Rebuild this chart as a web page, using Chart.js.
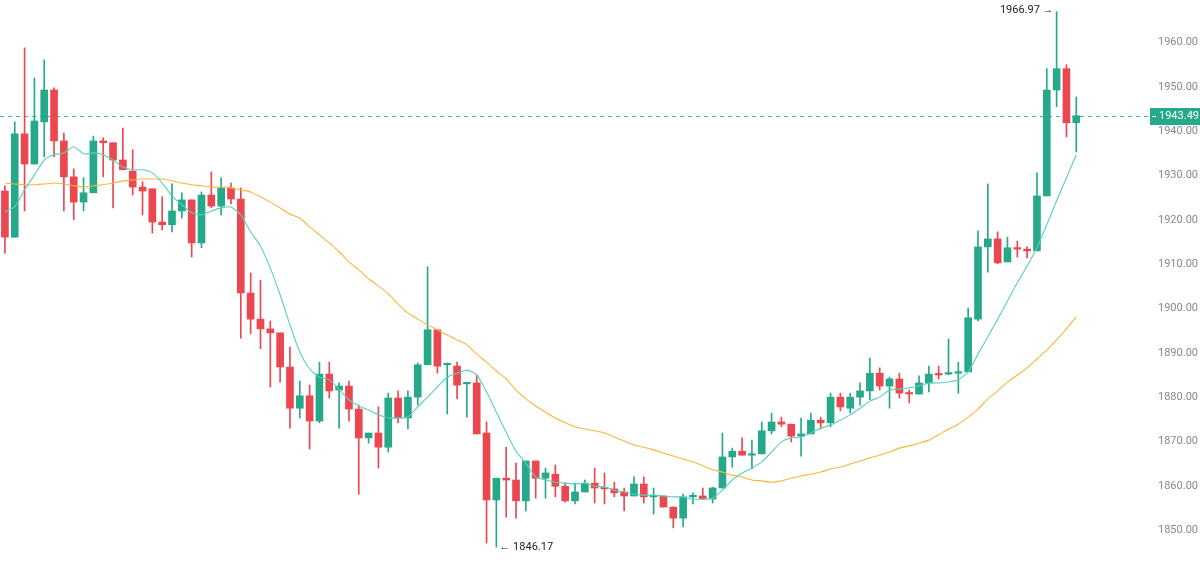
<!DOCTYPE html>
<html>
<head>
<meta charset="utf-8">
<script src="https://cdn.jsdelivr.net/npm/chart.js@4.4.0/dist/chart.umd.min.js"></script>
<style>
html, body { margin: 0; padding: 0; background: #fff; }
#wrap { width: 1200px; height: 566px; }
</style>
</head>
<body>
<div id="wrap"><canvas id="chart"></canvas></div>
<script>
// candles (oldest first)
var open = [1926.5,1916.1,1939.4,1932.6,1942.1,1949.3,1937.8,1929.7,1924.0,1926.1,
 1937.8,1937.4,1933.5,1931.0,1927.4,1927.0,1919.5,1918.9,1922.0,1924.5,
 1914.8,1925.6,1923.1,1927.2,1924.7,1903.5,1897.6,1895.4,1894.5,1886.8,
 1877.5,1880.3,1874.6,1885.2,1881.6,1882.5,1877.3,1870.8,1871.9,1868.7,
 1879.8,1875.3,1880.0,1887.3,1895.2,1887.3,1887.0,1883.0,1883.2,1871.9,
 1856.8,1861.7,1861.3,1856.6,1865.6,1861.7,1862.6,1859.9,1856.6,1858.6,
 1860.6,1859.5,1859.3,1858.6,1857.7,1860.4,1857.5,1857.7,1855.2,1852.7,
 1857.5,1857.7,1857.0,1859.5,1866.5,1867.8,1866.9,1867.2,1872.4,1874.4,
 1873.9,1871.2,1871.7,1874.8,1874.2,1880.0,1877.5,1880.0,1881.4,1885.4,
 1882.5,1884.1,1880.9,1880.7,1883.2,1885.2,1885.2,1885.4,1885.7,1897.6,
 1913.9,1915.7,1910.5,1913.7,1913.4,1913.0,1925.4,1949.3,1954.1,1941.9];
var high = [1927.7,1942.1,1958.8,1952.0,1956.1,1949.8,1939.6,1931.5,1929.5,1938.9,
 1938.5,1937.4,1940.7,1935.8,1928.6,1927.0,1925.2,1928.1,1926.1,1924.5,
 1926.3,1930.8,1929.5,1928.3,1927.2,1908.0,1906.4,1897.2,1894.5,1891.3,
 1883.6,1882.7,1887.9,1887.9,1883.2,1883.6,1878.2,1871.9,1877.8,1880.9,
 1881.4,1881.4,1887.7,1909.4,1895.2,1887.7,1887.9,1883.2,1885.0,1874.4,
 1861.7,1868.7,1865.1,1865.6,1865.6,1864.0,1864.7,1860.6,1860.6,1861.3,
 1864.0,1862.9,1860.8,1859.5,1862.0,1862.0,1859.5,1857.7,1855.2,1858.1,
 1858.4,1859.5,1859.7,1871.9,1868.5,1870.8,1870.3,1874.4,1876.4,1875.5,
 1873.9,1875.3,1876.4,1875.5,1880.9,1880.9,1880.9,1883.2,1888.8,1886.6,
 1884.5,1885.4,1881.6,1884.8,1887.0,1887.0,1893.1,1887.9,1900.1,1917.5,
 1928.1,1917.3,1916.1,1915.2,1913.9,1930.6,1954.1,1966.97,1955.0,1947.7];
var low = [1912.5,1916.1,1922.0,1932.6,1934.2,1934.2,1922.0,1920.0,1922.0,1926.1,
 1929.7,1922.7,1931.3,1925.6,1921.1,1917.0,1917.7,1917.3,1920.4,1911.6,
 1913.7,1922.7,1921.1,1923.6,1893.3,1894.3,1890.9,1882.3,1883.4,1873.0,
 1875.3,1868.3,1874.2,1879.8,1873.0,1874.6,1858.1,1869.6,1864.0,1867.6,
 1874.2,1872.8,1878.2,1887.3,1885.4,1876.2,1879.6,1875.5,1871.7,1847.1,
 1846.17,1852.9,1852.7,1854.3,1857.2,1857.2,1857.5,1856.3,1855.9,1858.6,
 1856.1,1855.9,1857.5,1854.3,1857.7,1856.1,1853.6,1855.2,1850.5,1850.7,
 1855.9,1857.0,1856.1,1859.5,1864.2,1866.9,1863.8,1867.2,1871.7,1873.3,
 1869.9,1866.7,1871.7,1872.8,1873.3,1876.9,1876.4,1878.2,1879.4,1881.6,
 1877.5,1879.8,1878.7,1880.7,1881.2,1884.1,1885.0,1880.9,1885.7,1897.2,
 1908.2,1910.1,1910.5,1911.6,1911.4,1913.0,1925.4,1945.5,1938.7,1935.3];
var close = [1916.1,1939.4,1932.6,1942.3,1949.3,1937.8,1929.7,1924.0,1926.1,1937.8,
 1937.4,1933.5,1931.3,1927.4,1926.5,1919.5,1918.9,1922.0,1924.5,1914.8,
 1925.6,1923.1,1927.2,1924.7,1903.5,1897.6,1895.4,1894.5,1886.8,1877.5,
 1880.3,1874.6,1885.2,1881.4,1882.5,1877.3,1870.8,1871.9,1868.7,1879.8,
 1875.3,1880.0,1887.3,1895.2,1887.0,1887.5,1882.7,1883.2,1871.7,1856.8,
 1861.7,1861.3,1856.6,1865.6,1861.7,1862.9,1859.9,1856.6,1858.6,1860.6,
 1859.5,1859.3,1858.4,1857.7,1860.4,1857.5,1857.7,1855.2,1852.7,1857.5,
 1857.7,1857.0,1859.5,1866.5,1867.8,1866.9,1867.2,1872.4,1874.4,1873.9,
 1871.2,1871.7,1874.8,1874.2,1880.0,1877.8,1880.0,1881.4,1885.4,1882.5,
 1884.1,1880.9,1880.7,1883.2,1885.2,1885.0,1885.4,1885.7,1897.9,1913.9,
 1915.7,1910.3,1913.7,1913.4,1913.0,1925.4,1949.3,1954.1,1941.9,1943.49];

// moving averages as drawn
var maFast = [1921.8,1922.9,1926.8,1930.1,1933.5,1934.7,1935.1,1936.5,1934.9,1935.1,
 1934.7,1933.5,1931.9,1931.3,1931.3,1930.6,1928.3,1925.4,1923.4,1921.6,
 1921.1,1922.0,1922.7,1922.9,1921.1,1917.3,1914.1,1909.1,1903.1,1896.3,
 1890.2,1886.4,1884.5,1883.9,1881.8,1879.4,1878.0,1877.1,1876.0,1875.3,
 1875.3,1875.5,1877.8,1880.0,1882.3,1884.5,1885.4,1886.1,1885.0,1881.2,
 1876.6,1872.1,1867.8,1865.1,1862.0,1861.3,1860.8,1860.6,1860.4,1860.6,
 1859.9,1859.7,1859.0,1858.6,1858.1,1857.9,1857.9,1857.7,1857.5,1857.5,
 1857.0,1857.0,1857.2,1859.0,1861.3,1862.9,1864.0,1865.4,1867.6,1869.9,
 1870.8,1871.0,1871.9,1873.0,1873.7,1874.8,1876.0,1877.5,1879.1,1880.0,
 1881.6,1881.8,1882.1,1882.5,1883.2,1883.2,1883.4,1883.9,1885.7,1889.7,
 1893.6,1897.6,1901.7,1905.8,1909.6,1913.7,1918.9,1924.3,1929.5,1934.7];
var maSlow = [1928.3,1928.1,1927.9,1927.9,1928.1,1928.3,1928.1,1927.7,1927.4,1927.7,
 1927.9,1928.3,1928.8,1929.0,1929.2,1929.2,1929.2,1928.8,1928.3,1927.9,
 1927.7,1927.4,1927.4,1927.2,1926.8,1926.3,1925.2,1924.0,1922.7,1921.3,
 1920.4,1918.4,1916.6,1914.8,1912.8,1910.5,1908.7,1906.7,1905.1,1903.3,
 1901.0,1899.0,1897.6,1896.3,1895.2,1894.0,1892.9,1891.8,1889.7,1887.9,
 1885.9,1884.1,1881.6,1879.6,1878.0,1876.6,1875.3,1874.2,1873.3,1872.8,
 1872.4,1871.9,1871.0,1870.1,1869.2,1868.7,1868.1,1867.4,1866.7,1866.0,
 1865.4,1864.5,1863.6,1863.1,1862.4,1862.0,1861.3,1861.1,1860.8,1861.1,
 1861.7,1862.2,1862.6,1863.1,1863.8,1864.2,1864.9,1865.6,1866.3,1866.9,
 1867.6,1868.5,1869.0,1869.6,1870.3,1871.5,1872.8,1873.9,1875.5,1877.3,
 1879.6,1881.4,1883.4,1885.0,1886.6,1888.6,1890.6,1892.9,1895.4,1898.1];

var yTicks = [1850, 1860, 1870, 1880, 1890, 1900, 1910, 1920, 1930, 1940, 1950, 1960];
var lastPrice = 1943.49;
var emptySlots = 7; // free room right of the last candle

// one category per candle, plus the empty ones
var categories = [];
for (var i = 0; i < open.length + emptySlots; i++) categories.push(String(i + 1));

var upColor = '#26a98a';
var downColor = '#eb4751';
var candleColors = open.map(function (o, i) { return close[i] >= o ? upColor : downColor; });

var overlay = {
  id: 'overlay',
  beforeDatasetsDraw: function (chart) {
    var ctx = chart.ctx, area = chart.chartArea;
    var py = Math.round(chart.scales.y.getPixelForValue(lastPrice)) + 0.5;
    ctx.save();
    ctx.strokeStyle = '#3dbb9e';
    ctx.lineWidth = 1;
    ctx.setLineDash([4, 4]);
    ctx.beginPath();
    ctx.moveTo(area.left, py);
    ctx.lineTo(area.right, py);
    ctx.stroke();
    ctx.restore();
  },
  afterDraw: function (chart) {
    var ctx = chart.ctx, area = chart.chartArea, ys = chart.scales.y, xs = chart.scales.x;
    var py = ys.getPixelForValue(lastPrice);
    ctx.save();
    // last price tag on the axis
    ctx.fillStyle = upColor;
    ctx.fillRect(area.right, Math.round(py) - 8, chart.width - area.right, 17);
    ctx.strokeStyle = '#fff';
    ctx.beginPath();
    ctx.moveTo(area.right + 2, Math.round(py) + 0.5);
    ctx.lineTo(area.right + 6, Math.round(py) + 0.5);
    ctx.stroke();
    ctx.fillStyle = '#fff';
    ctx.font = '11px Roboto';
    ctx.textBaseline = 'middle';
    ctx.textAlign = 'left';
    ctx.fillText(lastPrice.toFixed(2), area.right + 9, py + 0.5);

    // highest high / lowest low markers
    var hi = Math.max.apply(null, high), iHi = high.indexOf(hi);
    var lo = Math.min.apply(null, low), iLo = low.indexOf(lo);
    ctx.fillStyle = '#222';
    ctx.textAlign = 'right';
    ctx.fillText(hi.toFixed(2) + ' \u2192', xs.getPixelForValue(iHi) - 3, ys.getPixelForValue(hi) - 1);
    ctx.textAlign = 'left';
    ctx.fillText('\u2190 ' + lo.toFixed(2), xs.getPixelForValue(iLo) + 3, ys.getPixelForValue(lo));
    ctx.restore();
  }
};

Chart.defaults.font.family = 'Roboto';

new Chart(document.getElementById('chart'), {
  type: 'bar',
  data: {
    labels: categories,
    datasets: [
      {
        type: 'line', label: 'MA fast', data: maFast, order: 0,
        borderColor: '#58d2b8', borderWidth: 1.1, pointRadius: 0, tension: 0.2
      },
      {
        type: 'line', label: 'MA slow', data: maSlow, order: 0,
        borderColor: '#f6b73c', borderWidth: 1.1, pointRadius: 0, tension: 0.2
      },
      {
        label: 'wick', order: 2, grouped: false,
        data: low.map(function (l, i) { return [l, high[i]]; }),
        backgroundColor: candleColors, barThickness: 1
      },
      {
        label: 'body', order: 1, grouped: false,
        data: open.map(function (o, i) { return [o, close[i]]; }),
        backgroundColor: candleColors, barThickness: 7, minBarLength: 1.5
      }
    ]
  },
  options: {
    responsive: true,
    maintainAspectRatio: false,
    animation: false,
    layout: { padding: 0 },
    plugins: { legend: { display: false }, tooltip: { enabled: false } },
    scales: {
      x: { display: false, offset: true, grid: { display: false } },
      y: {
        position: 'right',
        min: 1841.9,
        max: 1969.6,
        grid: { display: false, drawTicks: false },
        border: { display: false },
        afterBuildTicks: function (s) { s.ticks = yTicks.map(function (v) { return { value: v }; }); },
        afterFit: function (s) { s.width = 50; s.paddingTop = 0; s.paddingBottom = 0; },
        ticks: {
          color: '#858992',
          padding: 8,
          font: { size: 11 },
          callback: function (v) { return Number(v).toFixed(2); }
        }
      }
    }
  },
  plugins: [overlay]
});
</script>
</body>
</html>
